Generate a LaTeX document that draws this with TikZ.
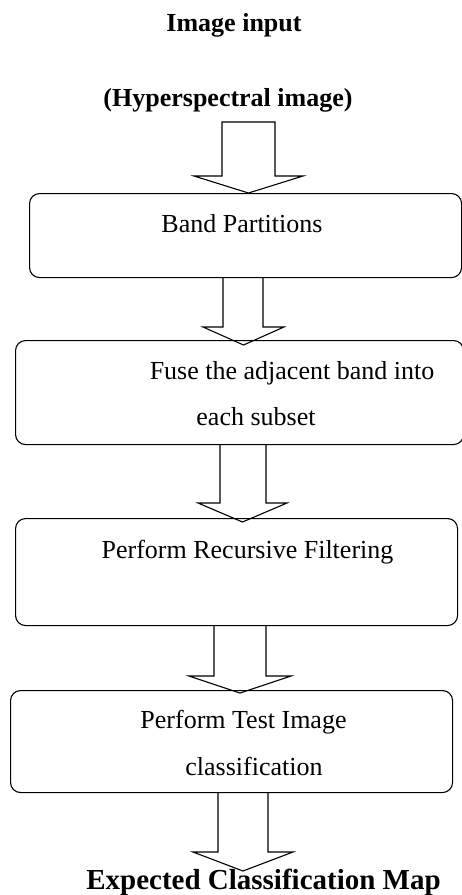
\documentclass[tikz,border=0pt]{standalone}
\usepackage{fontspec}
\setmainfont{Liberation Serif}
\tikzset{
  box/.style={draw, line width=1.1pt, rounded corners=10pt, inner sep=0pt, anchor=north west},
  txt/.style={font=\fontsize{26}{30}\selectfont, anchor=base, inner sep=0pt},
  ttl/.style={font=\fontsize{26}{30}\selectfont\bfseries, anchor=base, inner sep=0pt},
  bigttl/.style={font=\fontsize{29}{33}\selectfont\bfseries, anchor=base, inner sep=0pt},
  barrow/.style={draw, line width=1.1pt, line join=miter}
}
\newcommand\blockarr[7]{%
  \draw[barrow] (#1,#3) -- (#1,#4) -- (#5,#4) -- ({(#5+#6)/2},#7) -- (#6,#4) -- (#2,#4) -- (#2,#3);}
\begin{document}
\begin{tikzpicture}[x=1pt,y=-1pt]
\useasboundingbox (0,0) rectangle (462,895);
\clip (0,0) rectangle (462,895);
% titles
\node[ttl] (t1) at (234,31) {Image input};
\node[ttl] (t2) at (228,106) {(Hyperspectral image)};
% boxes
\node[box, minimum width=432pt, minimum height=84pt] (b1) at (29,193) {};
\node[box, minimum width=448pt, minimum height=104pt] (b2) at (15,340) {};
\node[box, minimum width=442pt, minimum height=107pt] (b3) at (15,518) {};
\node[box, minimum width=442pt, minimum height=102pt] (b4) at (10,690) {};
% texts
\node[txt] (l1) at (242,232) {Band Partitions};
\node[txt] (l2a) at (292,379) {Fuse the adjacent band into};
\node[txt] (l2b) at (256,425) {each subset};
\node[txt] (l3) at (247.5,558) {Perform Recursive Filtering};
\node[txt] (l4a) at (243.5,728) {Perform Test Image};
\node[txt] (l4b) at (254,775) {classification};
\node[bigttl] (t3) at (263.5,889) {Expected Classification Map};
% block arrows
\draw[barrow] (222,122) -- (222,176) -- (194,176) -- (248.5,193) -- (303,176) -- (275,176) -- (275,122) -- cycle;
\blockarr{223}{263}{277}{327}{203}{284}{345}
\blockarr{220}{266}{444}{503}{198}{287}{522}
\blockarr{214}{266}{625}{676}{189}{291}{693}
\blockarr{218}{268}{792}{852}{193}{293}{871}
\end{tikzpicture}
\end{document}
